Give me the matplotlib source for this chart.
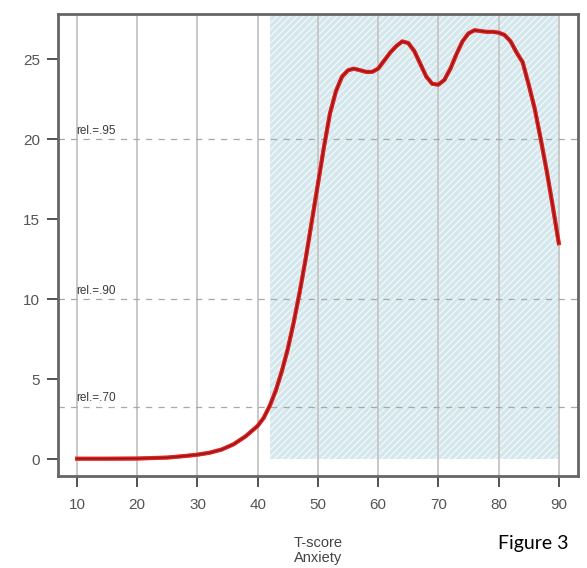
import numpy as np
import matplotlib.pyplot as plt
import matplotlib.patheffects as pe

# curve
tscore = [10, 15, 20, 25, 28, 30, 32, 34, 36, 38, 40, 41, 42, 43, 44, 45, 46, 47, 48, 49,
          50, 51, 52, 53, 54, 55, 56, 57, 58, 59, 60, 61, 62, 63, 64, 65, 66, 67, 68, 69,
          70, 71, 72, 73, 74, 75, 76, 77, 78, 79, 80, 81, 82, 83, 84, 85, 86, 87, 88, 89, 90]
info = [0.05, 0.05, 0.06, 0.12, 0.22, 0.3, 0.42, 0.62, 0.95, 1.45, 2.1, 2.6, 3.35, 4.3, 5.5,
        6.9, 8.6, 10.5, 12.6, 14.9, 17.2, 19.5, 21.6, 23.0, 23.9, 24.3, 24.4, 24.3, 24.2, 24.2,
        24.4, 24.9, 25.4, 25.8, 26.1, 26.0, 25.5, 24.7, 23.9, 23.45, 23.4, 23.7, 24.4, 25.3,
        26.1, 26.6, 26.8, 26.75, 26.7, 26.7, 26.65, 26.5, 26.1, 25.4, 24.8, 23.4, 21.9, 20.0,
        18.0, 15.8, 13.5]

rel_levels = [20, 10, 3.3]
rel_labels = ['rel.=.95', 'rel.=.90', 'rel.=.70']
shade_x = [42, 90]
xticks = [10, 20, 30, 40, 50, 60, 70, 80, 90]
yticks = [0, 5, 10, 15, 20, 25]

plt.rcParams['font.family'] = ['Liberation Sans', 'DejaVu Sans']
plt.rcParams['hatch.linewidth'] = 0.9

fig = plt.figure(figsize=(5.87, 5.68), dpi=100)
ax = fig.add_axes([0.0988, 0.162, 0.886, 0.813])
ax.set_xlim(6.84, 93.2)
ax.set_ylim(-1.03, 27.8)

#shaded area
ax.fill_between(shade_x, 0, 27.8, facecolor='#d4e7ec', edgecolor='#f4f9fa',
                hatch='/////', linewidth=0, zorder=1)

#grid
for xt in xticks:
    ax.axvline(xt, color='#c8c8c8', lw=1.4, zorder=2)

for lev, lab in zip(rel_levels, rel_labels):
    ax.axhline(lev, color='#a8a8a8', lw=0.9, ls=(0, (5, 5)), zorder=2)
    ax.text(9.9, lev + 0.15, lab, fontsize=8.5, color='#3a3a3a', ha='left', va='bottom')

ax.plot(tscore, info, color='#e01f1f', lw=2.6, zorder=3,
        path_effects=[pe.Stroke(linewidth=3.0, foreground='#e8403a'), pe.Normal()])
ax.plot(tscore, info, color='#8a1818', lw=0.9, zorder=4)

ax.set_xticks(xticks)
ax.set_yticks(yticks)
ax.tick_params(direction='out', length=8, width=1.3, color='#444444',
               labelsize=11, labelcolor='#555555')
ax.tick_params(axis='x', pad=8)
ax.tick_params(axis='y', pad=5)
for s in ax.spines.values():
    s.set_color('#666666')
    s.set_linewidth(2)

fig.text(318/587, 1-543/568, 'T-score', ha='center', va='center', fontsize=10.5, color='#444444')
fig.text(318/587, 1-558/568, 'Anxiety', ha='center', va='center', fontsize=10.5, color='#444444')
fig.text(533/587, 1-544/568, 'Figure 3', ha='center', va='center', fontsize=14,
         color='black', family='Lato')

plt.savefig('out.png', dpi=100)
